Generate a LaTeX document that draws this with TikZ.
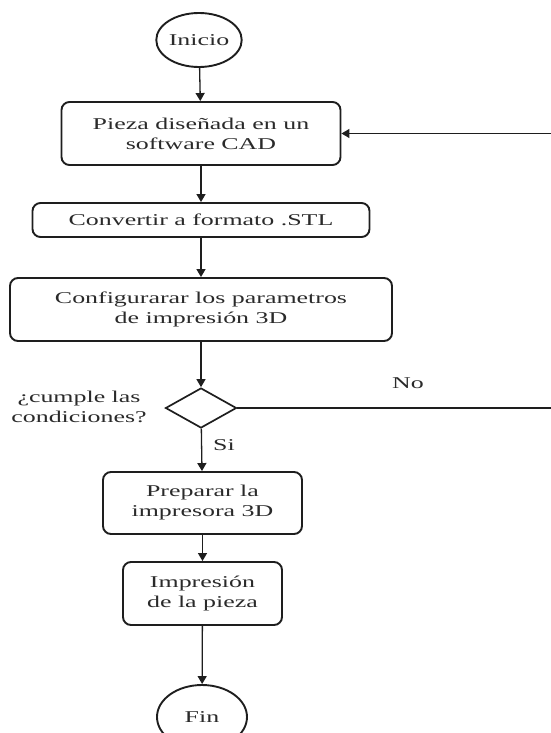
\documentclass[tikz,border=0pt]{standalone}
\usepackage{fontspec}
\setmainfont{Liberation Serif}[FakeStretch=1.57]
\usetikzlibrary{arrows.meta,shapes.geometric,positioning,calc}
\definecolor{ink}{HTML}{1E1E1E}
\definecolor{label}{HTML}{2A2A2A}
\newcommand{\MidX}{201}
\newcommand{\BackX}{565}

\begin{document}
\begin{tikzpicture}[
    x=1pt, y=-1pt,
    font=\fontsize{16.5}{20}\selectfont, text=label,
    edge/.style={-{Triangle[length=8pt, width=9pt]}, line width=1.3pt, draw=ink},
    terminal/.style={ellipse, draw=ink, line width=1.9pt, inner sep=0pt},
    stepbox/.style={draw=ink, line width=1.9pt, rounded corners=8pt, align=center, inner sep=0pt},
    decision/.style={diamond, draw=ink, line width=1.7pt, inner sep=0pt, minimum width=71pt, minimum height=40pt},
  ]
\useasboundingbox (0,0) rectangle (551,733);

% --- Start and the design steps ---------------------------------------------
\node[terminal, minimum width=78pt, minimum height=54pt] (inicio) at (\MidX-2, 40) {Inicio};
\node[stepbox, minimum width=279pt, minimum height=63pt] (pieza) at (\MidX, 133.5) {Pieza diseñada en un\\software CAD};
\node[stepbox, minimum width=337pt, minimum height=34pt] (stl) at (\MidX, 220) {Convertir a formato .STL};
\node[stepbox, minimum width=382pt, minimum height=63pt] (config) at (\MidX, 309.5) {Configurarar los parametros\\de impresión 3D};

% --- The check ------------------------------------------------------------------
\node[decision] (cond) at (\MidX, 408) {};
\node[align=center] (ask) at (79, 407) {¿cumple las\\condiciones?};
\node (si) at (224, 445) {Si};
\node (no) at (408, 383) {No};

% --- Printing and end -------------------------------------------------------------
\node[stepbox, minimum width=199pt, minimum height=62pt] (prep) at (\MidX+1.5, 503) {Preparar la\\impresora 3D};
\node[stepbox, minimum width=159pt, minimum height=63pt] (impr) at (\MidX+1.5, 593.5) {Impresión\\de la pieza};
\node[terminal, minimum width=90pt, minimum height=64pt] (fin) at (\MidX+1, 717) {Fin};

% --- Edges ------------------------------------------------------------------------
\draw[edge] (inicio) -- (pieza);
\draw[edge] (pieza) -- (stl);
\draw[edge] (stl) -- (config);
\draw[edge] (config) -- (cond);
\draw[edge] (cond) -- (prep);
\draw[edge] (prep) -- (impr);
\draw[edge] (impr) -- (fin);

% back to the design when the check fails (the turn lies past the right edge)
\coordinate (back) at (\BackX, 0);
\draw[edge] (cond.east) -- (back |- cond.east) -- (back |- pieza.east) -- (pieza.east);

\end{tikzpicture}
\end{document}
